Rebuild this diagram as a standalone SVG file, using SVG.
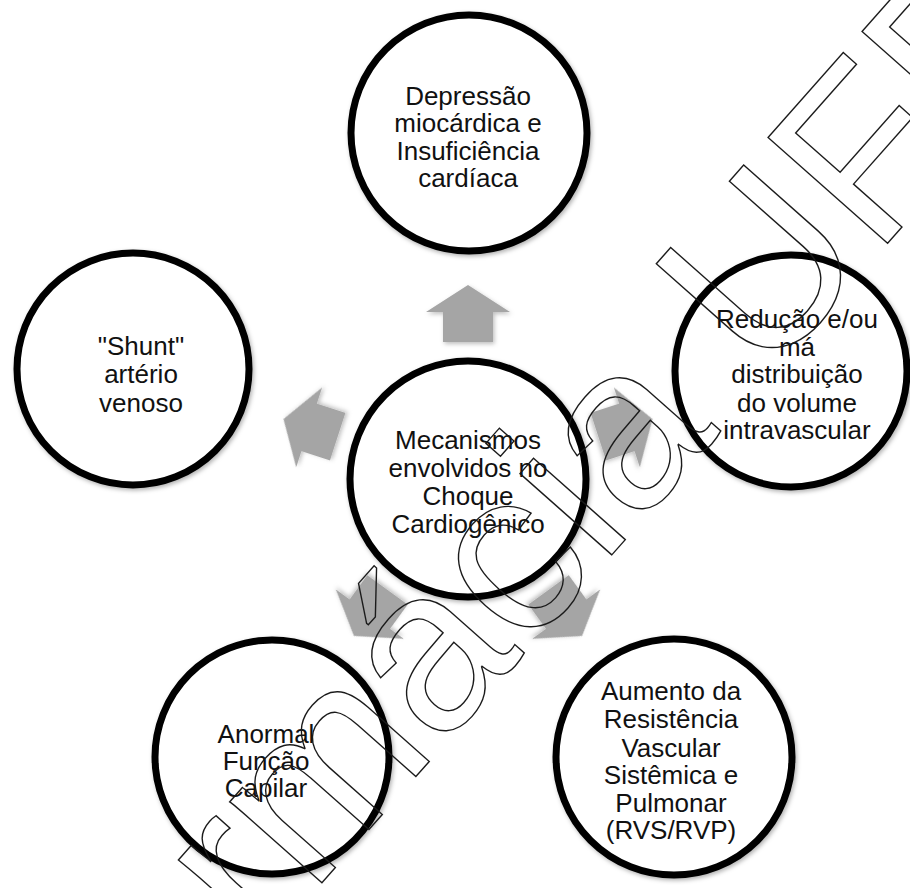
<svg xmlns="http://www.w3.org/2000/svg" xmlns:xlink="http://www.w3.org/1999/xlink" width="910" height="888" viewBox="0 0 910 888">
  <style>
    .node circle { fill: #ffffff; stroke: #000000; stroke-width: 7; filter: url(#sh); }
    .node text { font-family: "Liberation Sans", Arial, sans-serif; font-size: 26px; fill: #111111; text-anchor: middle; }
    .arrow { fill: #a5a5a5; filter: url(#ash); }
    .wm { font-family: "Liberation Sans", Arial, sans-serif; font-size: 232px; fill: none; stroke: #1a1a1a; stroke-width: 1.4; }
  </style>
  <defs>
    <filter id="sh" x="-20%" y="-20%" width="140%" height="140%">
      <feDropShadow dx="1.5" dy="2" stdDeviation="2" flood-color="#000" flood-opacity="0.3"/>
    </filter>
    <filter id="ash" x="-30%" y="-30%" width="160%" height="160%">
      <feDropShadow dx="1.5" dy="2" stdDeviation="2" flood-color="#000" flood-opacity="0.25"/>
    </filter>
    <path id="arr" d="M0,-194 L42,-167 L25,-167 L25,-137 L-25,-137 L-25,-167 L-42,-167 Z"/>
  </defs>
  <rect width="910" height="888" fill="#ffffff"/>

  <g id="connectors">
    <use xlink:href="#arr" class="arrow" transform="translate(468,479)"/>
    <use xlink:href="#arr" class="arrow" transform="translate(468,479) rotate(72)"/>
    <use xlink:href="#arr" class="arrow" transform="translate(468,479) rotate(144)"/>
    <use xlink:href="#arr" class="arrow" transform="translate(468,479) rotate(216)"/>
    <use xlink:href="#arr" class="arrow" transform="translate(468,479) rotate(288)"/>
  </g>

  <g id="node-top" class="node">
    <circle cx="469" cy="133" r="118"/>
    <text x="468" y="104.5">Depressão</text>
    <text x="468" y="132">miocárdica e</text>
    <text x="468" y="159.5">Insuficiência</text>
    <text x="468" y="187">cardíaca</text>
  </g>

  <g id="node-left" class="node">
    <circle cx="133" cy="369" r="116"/>
    <text x="141" y="355">"Shunt"</text>
    <text x="141" y="383">artério</text>
    <text x="141" y="411.5">venoso</text>
  </g>

  <g id="node-right" class="node">
    <circle cx="791" cy="371" r="116"/>
    <text x="797" y="328">Redução e/ou</text>
    <text x="797" y="355.5">má</text>
    <text x="797" y="383">distribuição</text>
    <text x="797" y="411.5">do volume</text>
    <text x="797" y="438.5">intravascular</text>
  </g>

  <g id="node-center" class="node">
    <circle cx="468" cy="479" r="118"/>
    <text x="468" y="449">Mecanismos</text>
    <text x="468" y="477">envolvidos no</text>
    <text x="468" y="505">Choque</text>
    <text x="468" y="533">Cardiogênico</text>
  </g>

  <g id="node-bottom-left" class="node">
    <circle cx="272" cy="757" r="117"/>
    <text x="266" y="742.5">Anormal</text>
    <text x="266" y="770">Função</text>
    <text x="266" y="797">Capilar</text>
  </g>

  <g id="node-bottom-right" class="node">
    <circle cx="674" cy="757" r="118"/>
    <text x="671" y="700">Aumento da</text>
    <text x="671" y="728">Resistência</text>
    <text x="671" y="756.5">Vascular</text>
    <text x="671" y="783.5">Sistêmica e</text>
    <text x="671" y="811.5">Pulmonar</text>
    <text x="671" y="838.5">(RVS/RVP)</text>
  </g>

  <g id="watermark">
    <text class="wm" x="-812" y="826" transform="rotate(-48.5)">Farmácia UFF</text>
  </g>
</svg>
